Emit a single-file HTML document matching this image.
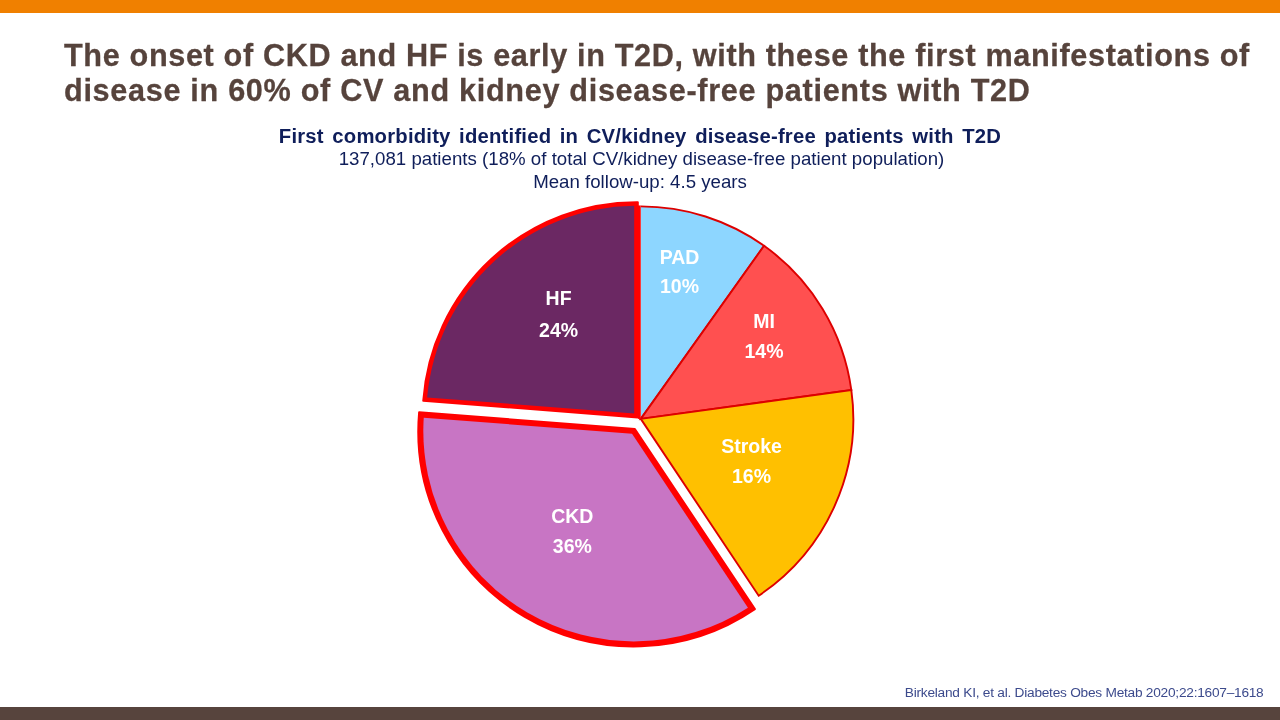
<!DOCTYPE html>
<html lang="en">
<head>
<meta charset="utf-8">
<title>The onset of CKD and HF is early in T2D</title>
<style>
  html, body { margin:0; padding:0; }
  body { width:1280px; height:720px; overflow:hidden; background:#fff; position:relative;
         font-family:"Liberation Sans", sans-serif; }
  .topbar { position:absolute; left:0; top:0; width:1280px; height:13px; background:#F08000; }
  .botbar { position:absolute; left:0; top:707px; width:1280px; height:13px; background:#57443D; }
  h1 { position:absolute; left:64px; top:38px; margin:0; width:1210px;
       font-size:30.67px; line-height:35px; -webkit-text-stroke:0.25px #56433C; font-weight:bold; color:#56433C; white-space:nowrap; }
  h1 span { display:block; height:35px; transform:scaleY(1.022); transform-origin:0 28.1px; }
  h1 .t1 { letter-spacing:0.63px; }
  h1 .t2 { letter-spacing:0.67px; }
  .sub { position:absolute; left:0; top:123px; width:1280px; text-align:center; color:#0F1E5A; white-space:nowrap; }
  .sub .l1 { font-size:20.3px; letter-spacing:0.2px; word-spacing:2.7px; font-weight:bold; line-height:24px; height:24px; position:relative; top:1px; transform:scaleY(1.04); transform-origin:50% 19px; }
  .sub .l2, .sub .l3 { font-size:18.67px; line-height:23px; height:23px; }
  .sub .l2 { letter-spacing:0.014px; padding-left:3px; }
  svg.pie { position:absolute; left:0; top:0; }
  .lbl { position:absolute; color:#fff; font-weight:bold; font-size:19.5px; line-height:30px; text-align:center; white-space:nowrap; transform:translateX(-50%); }
  .ref { position:absolute; right:16.5px; top:685px; font-size:13.7px; letter-spacing:-0.245px; line-height:16px; color:#3C4A8C; white-space:nowrap; }
</style>
</head>
<body>
  <div class="topbar"></div>
  <h1><span class="t1">The onset of CKD and HF is early in T2D, with these the first manifestations of</span><span class="t2">disease in 60% of CV and kidney disease-free patients with T2D</span></h1>
  <div class="sub">
    <div class="l1">First comorbidity identified in CV/kidney disease-free patients with T2D</div>
    <div class="l2">137,081 patients (18% of total CV/kidney disease-free patient population)</div>
    <div class="l3">Mean follow-up: 4.5 years</div>
  </div>
  <svg class="pie" width="1280" height="720" viewBox="0 0 1280 720">
    <path d="M640.80,418.90 L640.80,206.40 A212.50,212.50 0 0 1 764.05,245.79 Z" fill="#8DD6FF"/>
    <path d="M640.80,206.40 A212.50,212.50 0 0 1 764.05,245.79 L640.80,418.90" fill="none" stroke="#DD0000" stroke-width="1.9" stroke-linejoin="miter"/>
    <path d="M640.80,418.90 L764.05,245.79 A212.50,212.50 0 0 1 851.33,390.06 Z" fill="#FF5050" stroke="#DD0000" stroke-width="1.9" stroke-linejoin="miter"/>
    <path d="M640.80,418.90 L851.33,390.06 A212.50,212.50 0 0 1 758.70,595.69 Z" fill="#FFC000" stroke="#DD0000" stroke-width="1.9" stroke-linejoin="miter"/>
    <rect x="638.0" y="205.45" width="2.75" height="213.45" fill="#FF0000"/>
    <path d="M634.85,429.06 L754.89,609.06 A215.40,215.40 0 0 1 419.13,412.27 Z" fill="#FF0000" stroke="#FF0000" stroke-width="2.0" stroke-linejoin="round"/>
    <path d="M632.03,433.86 L747.95,607.67 A210.40,210.40 0 0 1 423.74,417.65 Z" fill="#C875C4"/>
    <path d="M637.80,417.41 L423.25,400.71 A213.80,213.80 0 0 1 637.80,202.20 Z" fill="#FF0000" stroke="#FF0000" stroke-width="2.0" stroke-linejoin="round"/>
    <path d="M634.20,413.51 L427.12,397.40 A210.20,210.20 0 0 1 634.20,205.81 Z" fill="#6B2863"/>
  </svg>
  <div class="lbl" style="left:679.5px; top:242.5px; line-height:29px;">PAD<br>10%</div>
  <div class="lbl" style="left:764px; top:306px;">MI<br>14%</div>
  <div class="lbl" style="left:751.5px; top:430.7px;">Stroke<br>16%</div>
  <div class="lbl" style="left:572.3px; top:501.2px;">CKD<br>36%</div>
  <div class="lbl" style="left:558.6px; top:282.1px; line-height:32px;">HF<br>24%</div>
  <div class="ref">Birkeland KI, et al. Diabetes Obes Metab 2020;22:1607–1618</div>
  <div class="botbar"></div>
</body>
</html>
